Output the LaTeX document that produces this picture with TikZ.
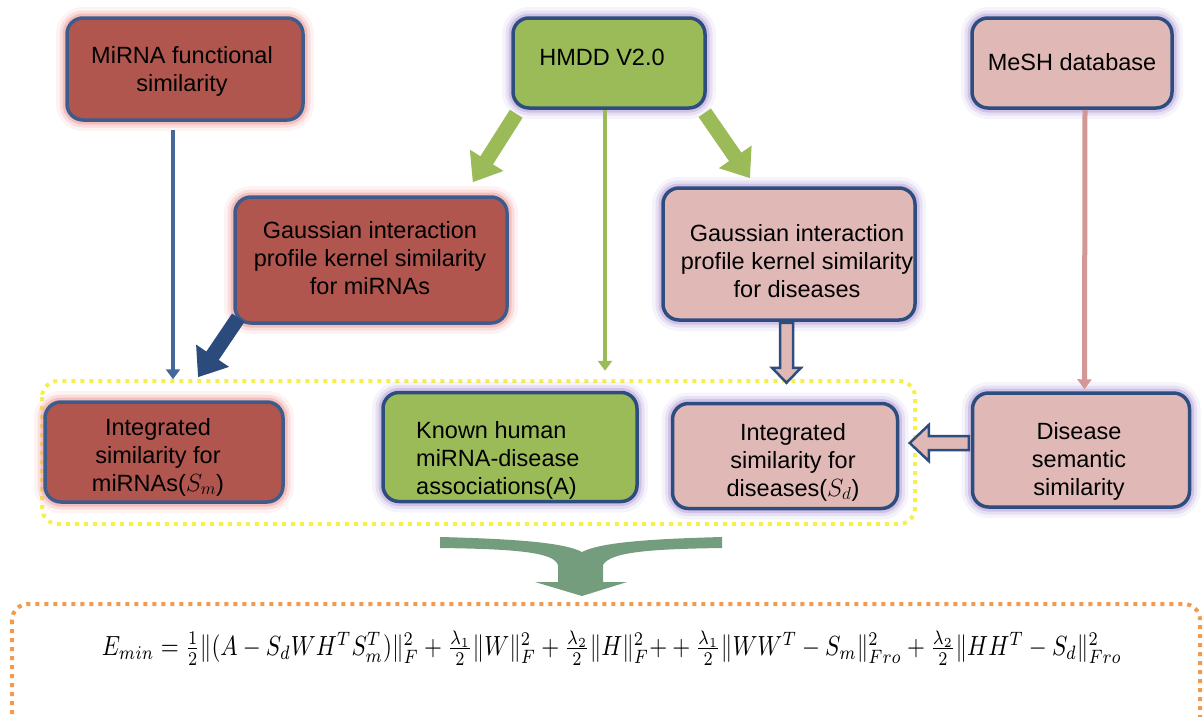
\documentclass[tikz,border=0pt]{standalone}
\usepackage{amsmath}
\usepackage{fontspec}
\setmainfont{Liberation Sans}
\usetikzlibrary{arrows.meta,calc}

\definecolor{boxred}{HTML}{B0564E}
\definecolor{boxgreen}{HTML}{9BBB59}
\definecolor{boxpink}{HTML}{E0B9B7}
\definecolor{edgeblue}{HTML}{3D5C8B}
\definecolor{edgedark}{HTML}{2D4D7F}
\definecolor{glowred}{HTML}{EE9E9B}
\definecolor{glowviolet}{HTML}{B9A3DB}
\definecolor{linkblue}{HTML}{46679A}
\definecolor{arrowdark}{HTML}{2B4B7D}
\definecolor{linkpink}{HTML}{D39896}
\definecolor{mergegreen}{HTML}{749D7E}
\definecolor{dotyellow}{HTML}{F7F04A}
\definecolor{dotorange}{HTML}{F29A4E}

\begin{document}
\begin{tikzpicture}[x=1pt,y=-1pt,
  box/.style={rectangle, rounded corners=16pt, line width=3.5pt, inner sep=0pt},
  glowR/.style={preaction={draw=glowred, line width=22pt, opacity=0.12},
                preaction={draw=glowred, line width=15pt, opacity=0.25},
                preaction={draw=glowred, line width=9pt, opacity=0.5}},
  glowV/.style={preaction={draw=glowviolet, line width=22pt, opacity=0.12},
                preaction={draw=glowviolet, line width=15pt, opacity=0.25},
                preaction={draw=glowviolet, line width=9pt, opacity=0.5}},
  redbox/.style={box, fill=boxred, draw=edgeblue, glowR},
  greenbox/.style={box, fill=boxgreen, draw=edgedark, glowV},
  pinkbox/.style={box, fill=boxpink, draw=edgedark, glowV},
  lbl/.style={font=\fontsize{23.5}{28}\selectfont, align=center, inner sep=0pt, text=black},
  thinlink/.style={line width=4.5pt, -{Triangle[length=10pt,width=14pt]}},
  fatlink/.style={line width=15pt, -{Triangle[length=26pt,width=38pt]}},
  hollow/.style={fill=boxpink, draw=edgedark, line width=2.5pt, line join=miter},
  dotted frame/.style={line width=4pt, dash pattern=on 4pt off 5pt, rounded corners=16pt}
]
\useasboundingbox (0,0) rectangle (1203,716);
\clip (0,0) rectangle (1203,716);

% grouping frames
\draw[dotted frame, dotyellow] (42,381) rectangle (915,524);
\draw[dotted frame, dotorange] (12,604) rectangle (1200,735);

% top row
\node[redbox, minimum width=236pt, minimum height=102pt] (mfs) at (185,69) {};
\node[lbl] (mfsT) at (182,71) {MiRNA functional\\similarity};

\node[greenbox, minimum width=192pt, minimum height=90pt] (hmdd) at (609,63) {};
\node[lbl] (hmddT) at (602,57) {HMDD V2.0};

\node[pinkbox, minimum width=200pt, minimum height=90pt] (mesh) at (1072,63) {};
\node[lbl] (meshT) at (1072,62) {MeSH database};

% middle row
\node[redbox, minimum width=272pt, minimum height=126pt] (gmi) at (371,260) {};
\node[lbl] (gmiT) at (370,258) {Gaussian interaction\\profile kernel similarity\\for miRNAs};

\node[pinkbox, minimum width=252pt, minimum height=132pt] (gdi) at (789,254) {};
\node[lbl] (gdiT) at (797,261) {Gaussian interaction\\profile kernel similarity\\for diseases};

% bottom row
\node[redbox, minimum width=238pt, minimum height=100pt] (ims) at (164,452) {};
\node[lbl] (imsT) at (158,457) {Integrated\\similarity for\\miRNAs($S_m$)};

\node[greenbox, minimum width=254pt, minimum height=109pt] (known) at (510,447) {};
\node[lbl, align=left, anchor=west] (knownT) at (416,460) {Known human\\miRNA-disease\\associations(A)};

\node[pinkbox, minimum width=225pt, minimum height=105pt] (ids) at (785,456) {};
\node[lbl] (idsT) at (793,462) {Integrated\\similarity for\\diseases($S_d$)};

\node[pinkbox, minimum width=217pt, minimum height=114pt] (dss) at (1081,450) {};
\node[lbl] (dssT) at (1079,461) {Disease\\semantic\\similarity};

% connectors
\draw[thinlink, linkblue] ($(mfs.south)+(-12,8)$) -- ($(ims.north)+(9,-21)$);
\draw[fatlink, arrowdark] ($(gmi.south west)+(5,-7)$) -- ($(ims.north)+(34,-23)$);
\draw[fatlink, boxgreen] ($(hmdd.south west)+(5,4)$) -- ($(gmi.north east)+(-36,-13)$);
\draw[fatlink, boxgreen] ($(hmdd.south east)+(-2,3)$) -- ($(gdi.north)+(-39,-8)$);
\draw[thinlink, boxgreen] ($(hmdd.south)+(-4,0)$) -- ($(known.north)+(95,-20)$);
\draw[thinlink, linkpink, line width=5pt] ($(mesh.south)+(13,0)$) -- ($(dss.north)+(3.5,-2)$);

% outlined block arrows
\draw[hollow] ($(gdi.south)+(-9,1)$) -- ++(13,0) -- ++(0,45) -- ++(8,0)
  -- ++(-14.5,15) -- ++(-14.5,-15) -- ++(8,0) -- cycle;
\draw[hollow] ($(dss.west)+(-2,-14)$) -- ++(-40,0) -- ++(0,-11) -- ++(-19,18)
  -- ++(19,18) -- ++(0,-11) -- ++(40,0) -- cycle;

% merging arrow into the objective
\fill[mergegreen] (440,537) .. controls (520,539) and (565,543) .. (582,552)
  .. controls (599,543) and (644,539) .. (722,537) -- (722,548)
  .. controls (650,549) and (610,552) .. (603,565) -- (603,582) -- (627,582)
  -- (582,596) -- (535,582) -- (558,582) -- (558,565)
  .. controls (554,552) and (514,549) .. (440,548) -- cycle;

% objective function
\node[inner sep=0pt] (eq) at (612,648) {\resizebox{1020pt}{!}{\scalebox{1}[1.2]{$E_{min} = \frac{1}{2}\|(A - S_dWH^TS_m^T)\|_F^2 + \frac{\lambda_1}{2}\|W\|_F^2 + \frac{\lambda_2}{2}\|H\|_F^2{+} + \frac{\lambda_1}{2}\|WW^T - S_m\|_{Fro}^2 + \frac{\lambda_2}{2}\|HH^T - S_d\|_{Fro}^2$}}};
\end{tikzpicture}
\end{document}
